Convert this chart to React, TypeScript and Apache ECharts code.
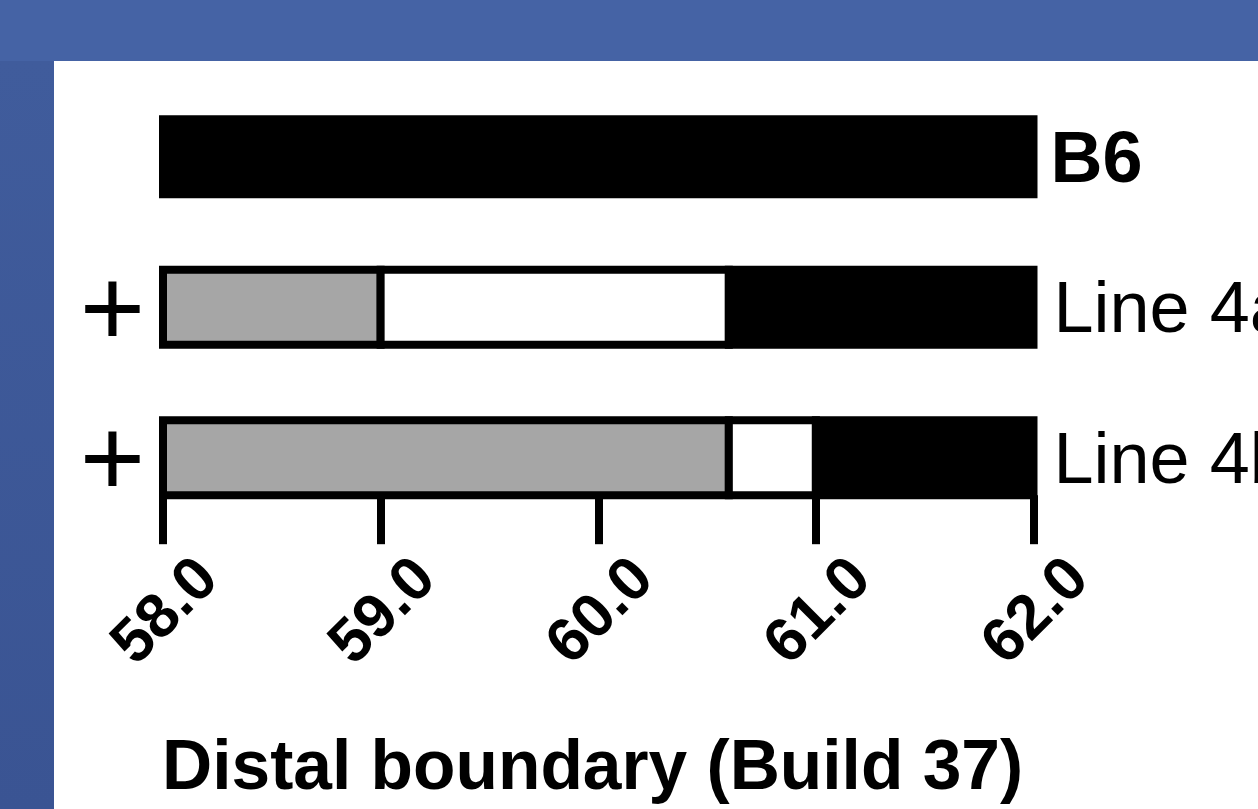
import React, { useEffect, useRef } from "react";
import * as echarts from "echarts";

// Strains shown top to bottom, with the transgene marker drawn on the left
const rows = ["B6", "Line 4a", "Line 4b"];
const markers = ["", "+", "+"];

// Interval boundaries along the chromosome (Mb)
const axisStart = 58.0;
const axisEnd = 62.0;
const axisStep = 1.0;
const grayEnd = [58.0, 59.0, 60.6];
const whiteEnd = [58.0, 60.6, 61.0];
const blackEnd = [62.0, 62.0, 62.0];

// Fill of each segment kind: 0 = gray, 1 = white, 2 = black
const segmentColors = ["#A6A6A6", "#FFFFFF", "#000000"];

const axisTitle = "Distal boundary (Build 37)";

const FONT = '"Liberation Sans", Arial, sans-serif';

export default function App() {
  const ref = useRef<HTMLDivElement>(null);

  useEffect(() => {
    if (!ref.current) return;
    const chart = echarts.init(ref.current, null, { renderer: "svg" });

    // one item per non-empty segment: [row, start, end, kind]
    const segments: number[][] = [];
    rows.forEach((_, i) => {
      const bounds = [axisStart, grayEnd[i], whiteEnd[i], blackEnd[i]];
      for (let k = 0; k < 3; k++) {
        if (bounds[k + 1] > bounds[k]) {
          segments.push([i, bounds[k], bounds[k + 1], k]);
        }
      }
    });

    const BAR_H = 75;

    chart.setOption({
      animation: false,
      backgroundColor: "transparent",
      graphic: [
        {
          type: "rect",
          z: -10,
          shape: { x: 0, y: 0, width: 1258, height: 809 },
          style: { fill: "#4563A5" },
        },
        {
          type: "rect",
          z: -9,
          shape: { x: 0, y: 61, width: 54, height: 748 },
          style: {
            fill: new echarts.graphic.LinearGradient(0, 0, 0, 1, [
              { offset: 0, color: "#405C9C" },
              { offset: 1, color: "#3A5493" },
            ]),
          },
        },
        {
          type: "rect",
          z: -8,
          shape: { x: 54, y: 61, width: 1204, height: 748 },
          style: { fill: "#ffffff" },
        },
      ],
      title: {
        text: axisTitle,
        left: 157,
        top: 725,
        textStyle: {
          fontFamily: FONT,
          fontSize: 69.5,
          fontWeight: "bold",
          color: "#000",
        },
      },
      grid: {
        left: 163,
        right: 224.5,
        top: 81.4,
        bottom: 276.1,
        containLabel: false,
        outerBoundsMode: "none",
      },
      xAxis: {
        type: "value",
        min: axisStart,
        max: axisEnd,
        interval: axisStep,
        offset: -37.7,
        splitLine: { show: false },
        axisLine: { show: false },
        axisTick: {
          show: true,
          length: 49,
          lineStyle: { color: "#000", width: 8 },
        },
        axisLabel: {
          rotate: 45,
          align: "center",
          verticalAlign: "middle",
          margin: 114,
          formatter: (v: number) => v.toFixed(1),
          fontFamily: FONT,
          fontWeight: "bold",
          fontSize: 62,
          color: "#000",
        },
      },
      yAxis: [
        {
          type: "category",
          data: rows,
          inverse: true,
          position: "left",
          axisLine: { show: false },
          axisTick: { show: false },
          splitLine: { show: false },
          axisLabel: {
            formatter: (_v: string, i: number) => markers[i],
            align: "center",
            margin: 50.5,
            fontFamily: FONT,
            fontSize: 112,
            color: "#000",
          },
        },
        {
          type: "category",
          data: rows,
          inverse: true,
          position: "right",
          axisLine: { show: false },
          axisTick: { show: false },
          splitLine: { show: false },
          axisLabel: {
            align: "left",
            margin: 17,
            formatter: (v: string) => (v === "B6" ? `{b|${v}}` : `{r|${v}}`),
            rich: {
              b: {
                fontFamily: FONT,
                fontSize: 72,
                fontWeight: "bold",
                color: "#000",
                padding: [0, 0, 0, 0],
              },
              r: {
                fontFamily: FONT,
                fontSize: 72,
                color: "#000",
                padding: [0, 0, 0, 3],
              },
            },
          },
        },
      ],
      series: [
        {
          name: "interval",
          type: "custom",
          xAxisIndex: 0,
          yAxisIndex: 0,
          encode: { x: [1, 2], y: 0 },
          data: segments,
          silent: true,
          z: 3,
          renderItem: (_params: any, api: any) => {
            const row = api.value(0);
            const a = api.coord([api.value(1), row]);
            const b = api.coord([api.value(2), row]);
            return {
              type: "rect",
              shape: {
                x: a[0],
                y: a[1] - BAR_H / 2,
                width: b[0] - a[0],
                height: BAR_H,
              },
              style: {
                fill: segmentColors[api.value(3)],
                stroke: "#000",
                lineWidth: 8,
              },
            };
          },
        },
      ],
    });

    return () => chart.dispose();
  }, []);

  return (
    <div
      ref={ref}
      style={{ position: "fixed", left: 0, top: 0, width: 1258, height: 809 }}
    />
  );
}
